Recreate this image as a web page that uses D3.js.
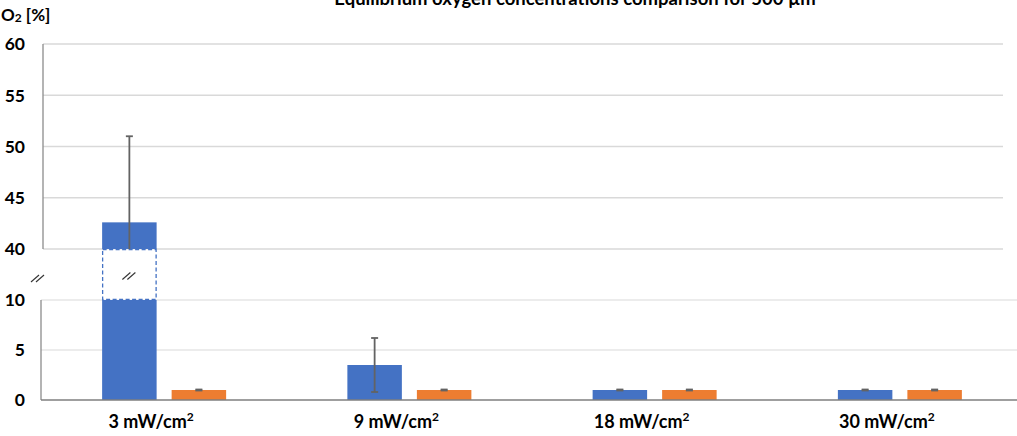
<!DOCTYPE html>
<html>
<head>
<meta charset="utf-8">
<script src="https://cdn.jsdelivr.net/npm/d3@7"></script>
<style>
  html, body { margin: 0; padding: 0; background: #fff; }
  svg { display: block; font-family: Lato, "Open Sans", sans-serif; }
</style>
</head>
<body>
<svg id="chart" width="1017" height="436"></svg>
<script>
// Irradiance categories and the two measured series (O2 %, mean and std. dev.)
const categories = ["3 mW/cm2", "9 mW/cm2", "18 mW/cm2", "30 mW/cm2"];
const seriesNames = ["A", "B"];
const seriesA = [42.6, 3.5, 1.0, 1.0];
const errorsA = [8.4, 2.7, 0.05, 0.05];
const seriesB = [1.0, 1.0, 1.0, 1.0];
const errorsB = [0.05, 0.05, 0.05, 0.05];
const yTicks = [0, 5, 10, 40, 45, 50, 55, 60];
const colors = ["#4472C4", "#ED7D31"];

const titleText = "Equilibrium oxygen concentrations comparison for 500 µm";

// Broken y axis: 10..40 is collapsed into a short gap
const breakLow = 10, breakHigh = 40;

const svg = d3.select("#chart");

const y = d3.scaleLinear()
  .domain([0, breakLow, breakHigh, 60])
  .range([400, 300, 249, 44]);

const x0 = d3.scaleBand().domain(categories).range([41.5, 1022.5]);
const x1 = d3.scaleBand().domain(seriesNames)
  .range([x0.bandwidth() / 2 - 62, x0.bandwidth() / 2 + 62])
  .paddingInner(0.216);

// Title (runs off the top edge of the canvas)
svg.append("text")
  .attr("x", 575).attr("y", 5)
  .attr("text-anchor", "middle")
  .attr("font-size", 18.5).attr("font-weight", "bold").attr("fill", "#000")
  .text(titleText);

// Axis unit label
const unit = svg.append("text")
  .attr("x", 1).attr("y", 21)
  .attr("font-size", 17).attr("font-weight", "bold").attr("fill", "#000");
unit.append("tspan").text("O");
unit.append("tspan").attr("font-size", 12).attr("dy", 1).text("2");
unit.append("tspan").attr("dy", -1).text(" [%]");

// Gridlines
const grid = svg.append("g");
yTicks.filter(t => t > 0).forEach(t => {
  const upper = t >= breakHigh;
  grid.append("line")
    .attr("x1", upper ? 43 : 41).attr("x2", upper ? 1003 : 1017)
    .attr("y1", y(t)).attr("y2", y(t))
    .attr("stroke", "#D9D9D9").attr("stroke-width", upper ? 1.5 : 1.2);
});

// Y axis line, split at the break
svg.append("line").attr("x1", 43).attr("x2", 43)
  .attr("y1", y(60)).attr("y2", y(breakHigh))
  .attr("stroke", "#8C8C8C").attr("stroke-width", 1.3);
svg.append("line").attr("x1", 41).attr("x2", 41)
  .attr("y1", y(breakLow)).attr("y2", y(0))
  .attr("stroke", "#8C8C8C").attr("stroke-width", 1.3);

// Y tick labels
svg.append("g").selectAll("text").data(yTicks).join("text")
  .attr("x", 25).attr("y", d => y(d))
  .attr("dy", "0.36em")
  .attr("text-anchor", "end")
  .attr("font-size", 17.5).attr("font-weight", "bold").attr("fill", "#000")
  .text(d => d);

// Bars
const data = [];
categories.forEach((c, i) => {
  data.push({ cat: c, s: "A", v: seriesA[i], e: errorsA[i], color: colors[0] });
  data.push({ cat: c, s: "B", v: seriesB[i], e: errorsB[i], color: colors[1] });
});

const bars = svg.append("g");
data.forEach(d => {
  const bx = x0(d.cat) + x1(d.s);
  const bw = x1.bandwidth();
  if (d.v > breakHigh) {
    // lower solid part
    bars.append("rect").attr("x", bx).attr("width", bw)
      .attr("y", y(breakLow)).attr("height", y(0) - y(breakLow)).attr("fill", d.color);
    // collapsed middle part drawn as a dashed outline
    bars.append("rect").attr("x", bx + 0.5).attr("width", bw - 1)
      .attr("y", y(breakHigh) + 0.5).attr("height", y(breakLow) - y(breakHigh) - 1)
      .attr("fill", "#fff").attr("stroke", d.color).attr("stroke-width", 1.3)
      .attr("stroke-dasharray", "4,2.5");
    // upper solid part
    bars.append("rect").attr("x", bx).attr("width", bw)
      .attr("y", y(d.v)).attr("height", y(breakHigh) - y(d.v)).attr("fill", d.color);
    // break marks inside the bar
    const mx = bx + bw / 2 - 4, my = (y(breakLow) + y(breakHigh)) / 2 + 2;
    [0, 5].forEach(o => {
      bars.append("line").attr("x1", mx + o - 3).attr("y1", my + 3)
        .attr("x2", mx + o + 5).attr("y2", my - 4)
        .attr("stroke", "#333").attr("stroke-width", 1.1);
    });
  } else {
    bars.append("rect").attr("x", bx).attr("width", bw)
      .attr("y", y(d.v)).attr("height", y(0) - y(d.v)).attr("fill", d.color);
  }
});

// Break marks on the y axis
[0, 5].forEach(o => {
  svg.append("line").attr("x1", 31 + o).attr("y1", 282)
    .attr("x2", 39 + o).attr("y2", 275)
    .attr("stroke", "#333").attr("stroke-width", 1.1);
});

// Error bars
const err = svg.append("g").attr("stroke", "#636363").attr("stroke-width", 1.8);
data.forEach(d => {
  const cx = x0(d.cat) + x1(d.s) + x1.bandwidth() / 2;
  const hi = d.v + d.e;
  let lo = d.v - d.e;
  const loClipped = d.v > breakHigh && lo < breakHigh;
  if (loClipped) lo = breakHigh;
  err.append("line").attr("x1", cx).attr("x2", cx).attr("y1", y(hi)).attr("y2", y(lo));
  err.append("line").attr("x1", cx - 3.5).attr("x2", cx + 3.5).attr("y1", y(hi)).attr("y2", y(hi));
  if (!loClipped) {
    err.append("line").attr("x1", cx - 3.5).attr("x2", cx + 3.5).attr("y1", y(lo)).attr("y2", y(lo));
  }
});

// X axis line
svg.append("line").attr("x1", 41).attr("x2", 1017)
  .attr("y1", y(0)).attr("y2", y(0))
  .attr("stroke", "#7F7F7F").attr("stroke-width", 1.6);

// Category labels, unit exponent raised as a superscript
svg.append("g").selectAll("text").data(categories).join("text")
  .attr("x", d => x0(d) + x0.bandwidth() / 2 - 13)
  .attr("y", 428)
  .attr("text-anchor", "middle")
  .attr("font-size", 18).attr("font-weight", "bold").attr("fill", "#000")
  .each(function (d) {
    const t = d3.select(this);
    t.append("tspan").text(d.slice(0, -1));
    t.append("tspan").attr("font-size", 12).attr("dy", -7).text(d.slice(-1));
  });
</script>
</body>
</html>
